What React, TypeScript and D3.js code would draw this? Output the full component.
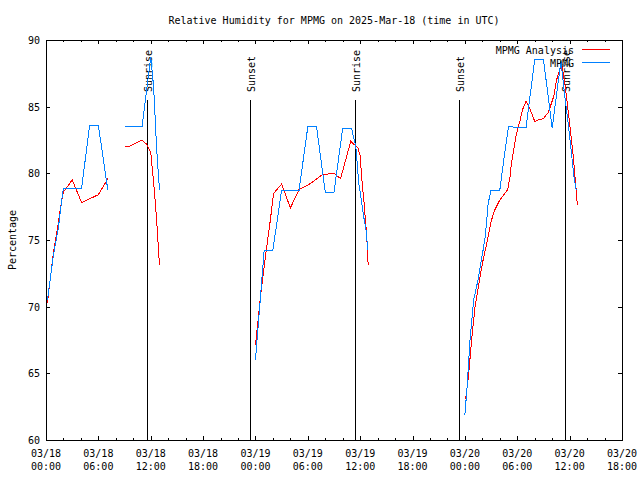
import React, { useRef, useEffect } from 'react';
import * as d3 from 'd3';

// MPMG Analysis (red) - null marks a gap in the record
const analysisTimes = [
  '2025-03-18 00:10', '2025-03-18 00:50', '2025-03-18 01:25', '2025-03-18 01:48', '2025-03-18 02:00',
  '2025-03-18 03:00', '2025-03-18 04:05', '2025-03-18 06:00', '2025-03-18 07:05', '2025-03-18 08:00',
  '2025-03-18 09:00', '2025-03-18 09:30', '2025-03-18 11:00', '2025-03-18 11:30', '2025-03-18 12:00',
  '2025-03-18 12:20', '2025-03-18 12:30', '2025-03-18 12:45', '2025-03-18 13:00', '2025-03-18 18:00',
  '2025-03-19 00:00', '2025-03-19 00:35', '2025-03-19 01:15', '2025-03-19 01:40', '2025-03-19 02:05',
  '2025-03-19 03:00', '2025-03-19 04:00', '2025-03-19 05:00', '2025-03-19 06:00', '2025-03-19 07:40',
  '2025-03-19 09:00', '2025-03-19 09:45', '2025-03-19 10:55', '2025-03-19 11:45', '2025-03-19 12:00',
  '2025-03-19 12:10', '2025-03-19 12:25', '2025-03-19 12:40', '2025-03-19 12:50', '2025-03-19 12:55',
  '2025-03-19 18:00',
  '2025-03-20 00:05', '2025-03-20 00:25', '2025-03-20 00:45', '2025-03-20 01:10', '2025-03-20 01:40',
  '2025-03-20 02:05', '2025-03-20 02:35', '2025-03-20 03:00', '2025-03-20 03:25', '2025-03-20 04:00',
  '2025-03-20 04:55', '2025-03-20 05:10', '2025-03-20 05:20', '2025-03-20 05:35', '2025-03-20 05:55',
  '2025-03-20 06:20', '2025-03-20 06:35', '2025-03-20 07:00', '2025-03-20 07:30', '2025-03-20 08:00',
  '2025-03-20 08:25', '2025-03-20 09:00', '2025-03-20 09:35', '2025-03-20 10:10', '2025-03-20 10:30',
  '2025-03-20 11:05', '2025-03-20 11:30', '2025-03-20 12:00', '2025-03-20 12:25', '2025-03-20 12:45',
  '2025-03-20 12:53',
];
const analysisValues = [
  70.3, 74.0, 76.3, 78.0, 78.6,
  79.5, 77.8, 78.4, 79.6, null,
  82.0, 82.0, 82.5, 82.2, 81.6,
  79.3, 78.0, 75.8, 73.1, null,
  67.1, 70.8, 74.3, 76.3, 78.5,
  79.2, 77.4, 78.8, 79.1, 79.9,
  80.0, 79.6, 82.4, 81.9, 81.3,
  79.7, 78.0, 76.0, 74.3, 73.1,
  null,
  63.1, 64.8, 67.4, 70.0, 72.0,
  73.5, 75.0, 76.4, 77.25, 78.0,
  78.8, 79.75, 80.75, 81.75, 83.0,
  84.0, 84.75, 85.4, 84.75, 83.9,
  84.0, 84.1, 84.6, 85.75, 87.0,
  88.25, 86.5, 83.75, 81.25, 78.75,
  77.6,
];

// MPMG observations (blue)
const mpmgTimes = [
  '2025-03-18 00:10', '2025-03-18 00:50', '2025-03-18 01:25', '2025-03-18 01:48', '2025-03-18 02:00',
  '2025-03-18 04:05', '2025-03-18 05:00', '2025-03-18 06:00', '2025-03-18 07:05', '2025-03-18 08:00',
  '2025-03-18 09:00', '2025-03-18 11:00', '2025-03-18 12:00', '2025-03-18 12:20', '2025-03-18 12:40',
  '2025-03-18 13:00', '2025-03-18 18:00',
  '2025-03-19 00:00', '2025-03-19 01:00', '2025-03-19 02:00', '2025-03-19 03:00', '2025-03-19 05:00',
  '2025-03-19 06:00', '2025-03-19 07:00', '2025-03-19 08:00', '2025-03-19 09:00', '2025-03-19 10:00',
  '2025-03-19 11:00', '2025-03-19 11:30', '2025-03-19 11:50', '2025-03-19 12:25', '2025-03-19 12:45',
  '2025-03-19 12:50', '2025-03-19 18:00',
  '2025-03-20 00:00', '2025-03-20 00:15', '2025-03-20 00:35', '2025-03-20 01:00', '2025-03-20 01:30',
  '2025-03-20 02:05', '2025-03-20 02:20', '2025-03-20 02:40', '2025-03-20 03:00', '2025-03-20 04:00',
  '2025-03-20 04:30', '2025-03-20 05:00', '2025-03-20 07:00', '2025-03-20 08:00', '2025-03-20 09:00',
  '2025-03-20 10:00', '2025-03-20 11:00', '2025-03-20 11:30', '2025-03-20 11:50', '2025-03-20 12:10',
  '2025-03-20 12:30', '2025-03-20 12:45',
];
const mpmgValues = [
  70.5, 73.8, 75.9, 78.0, 78.9,
  78.9, 83.6, 83.6, 78.75, null,
  83.5, 83.5, 88.7, 86.5, 82.0,
  78.75, null,
  66.0, 74.25, 74.25, 78.75, 78.75,
  83.5, 83.5, 78.6, 78.6, 83.4,
  83.4, 82.0, 79.3, 76.7, 75.4,
  74.25, null,
  61.9, 64.0, 67.5, 70.5, 72.0,
  74.25, 75.25, 77.75, 78.75, 78.75,
  81.25, 83.5, 83.4, 88.55, 88.55,
  83.4, 88.4, 85.5, 83.75, 81.75,
  79.75, 78.75,
];

const sunEvents = [
  { time: '2025-03-18 11:31', label: 'Sunrise' },
  { time: '2025-03-18 23:22', label: 'Sunset' },
  { time: '2025-03-19 11:24', label: 'Sunrise' },
  { time: '2025-03-19 23:19', label: 'Sunset' },
  { time: '2025-03-20 11:28', label: 'Sunrise' },
];

const yTicks = [60, 65, 70, 75, 80, 85, 90];
const xStart = '2025-03-18 00:00';
const xEnd = '2025-03-20 18:00';

const RED = '#ff0000';
const BLUE = '#0080ff';
const FONT = '"DejaVu Sans Mono", monospace';

const parse = d3.utcParse('%Y-%m-%d %H:%M');

const App: React.FC = () => {
  const svgRef = useRef<SVGSVGElement>(null);

  useEffect(() => {
    const margin = { top: 40, right: 18, bottom: 40, left: 46 };
    const W = 640;
    const H = 480;
    const width = W - margin.left - margin.right;
    const height = H - margin.top - margin.bottom;

    const root = d3.select(svgRef.current);
    root.selectAll('*').remove();
    root.attr('width', W).attr('height', H);

    const svg = root.append('g').attr('transform', `translate(${margin.left},${margin.top})`);

    const xScale = d3
      .scaleUtc()
      .domain([parse(xStart) as Date, parse(xEnd) as Date])
      .range([0, width]);

    const yScale = d3.scaleLinear().domain([60, 90]).range([height, 0]);

    // title
    root
      .append('text')
      .attr('x', margin.left + width / 2)
      .attr('y', 24)
      .attr('text-anchor', 'middle')
      .attr('font-family', FONT)
      .attr('font-size', '10px')
      .text('Relative Humidity for MPMG on 2025-Mar-18 (time in UTC)');

    // y label
    root
      .append('text')
      .attr('transform', `translate(16,${margin.top + height / 2}) rotate(-90)`)
      .attr('text-anchor', 'middle')
      .attr('font-family', FONT)
      .attr('font-size', '10px')
      .text('Percentage');

    const majorX = d3.utcHour.every(6)!.range(parse(xStart) as Date, d3.utcMinute.offset(parse(xEnd) as Date, 1));
    const minorX = d3.utcHour.every(2)!.range(parse(xStart) as Date, d3.utcMinute.offset(parse(xEnd) as Date, 1));

    const ticks = svg.append('g').attr('stroke', 'black').attr('stroke-width', 1).attr('shape-rendering', 'crispEdges');

    minorX.forEach((d) => {
      const x = Math.round(xScale(d)) + 0.5;
      ticks.append('line').attr('x1', x).attr('x2', x).attr('y1', height).attr('y2', height - 2);
      ticks.append('line').attr('x1', x).attr('x2', x).attr('y1', 0).attr('y2', 2);
    });
    majorX.forEach((d) => {
      const x = Math.round(xScale(d)) + 0.5;
      ticks.append('line').attr('x1', x).attr('x2', x).attr('y1', height).attr('y2', height - 4);
      ticks.append('line').attr('x1', x).attr('x2', x).attr('y1', 0).attr('y2', 4);
    });
    yTicks.forEach((v) => {
      const y = Math.round(yScale(v)) + 0.5;
      ticks.append('line').attr('x1', 0).attr('x2', 4).attr('y1', y).attr('y2', y);
      ticks.append('line').attr('x1', width).attr('x2', width - 4).attr('y1', y).attr('y2', y);
    });

    // tick labels
    const fmtDay = d3.utcFormat('%m/%d');
    const fmtHour = d3.utcFormat('%H:%M');
    const xLabels = svg.append('g').attr('font-family', FONT).attr('font-size', '10px').attr('text-anchor', 'middle');
    majorX.forEach((d) => {
      const t = xLabels.append('text').attr('x', xScale(d));
      t.append('tspan').attr('x', xScale(d)).attr('y', height + 17).text(fmtDay(d));
      t.append('tspan').attr('x', xScale(d)).attr('y', height + 30).text(fmtHour(d));
    });

    svg
      .append('g')
      .attr('font-family', FONT)
      .attr('font-size', '10px')
      .attr('text-anchor', 'end')
      .selectAll('text')
      .data(yTicks)
      .join('text')
      .attr('x', -6)
      .attr('y', (d) => yScale(d) + 4)
      .text((d) => d);

    // sunrise / sunset markers
    sunEvents.forEach((ev) => {
      const x = Math.round(xScale(parse(ev.time) as Date)) + 0.5;
      svg
        .append('line')
        .attr('x1', x)
        .attr('x2', x)
        .attr('y1', 60)
        .attr('y2', height)
        .attr('stroke', 'black')
        .attr('stroke-width', 1)
        .attr('shape-rendering', 'crispEdges');
      svg
        .append('text')
        .attr('transform', `translate(${x + 4},${52}) rotate(-90)`)
        .attr('font-family', FONT)
        .attr('font-size', '10px')
        .text(ev.label);
    });

    const line = d3
      .line<[Date, number | null]>()
      .defined((d) => d[1] != null)
      .x((d) => xScale(d[0]))
      .y((d) => yScale(d[1] as number));

    const series = [
      { times: analysisTimes, values: analysisValues, color: RED, name: 'MPMG Analysis' },
      { times: mpmgTimes, values: mpmgValues, color: BLUE, name: 'MPMG' },
    ];

    series.forEach((s) => {
      const pts = s.times.map((t, i) => [parse(t) as Date, s.values[i]] as [Date, number | null]);
      svg
        .append('path')
        .datum(pts)
        .attr('fill', 'none')
        .attr('stroke', s.color)
        .attr('stroke-width', 1)
        .attr('shape-rendering', 'crispEdges')
        .attr('d', line);
    });

    // key
    const legend = svg.append('g').attr('font-family', FONT).attr('font-size', '10px');
    series.forEach((s, i) => {
      const y = 9.5 + i * 13;
      legend
        .append('text')
        .attr('x', 528)
        .attr('y', y + 4)
        .attr('text-anchor', 'end')
        .text(s.name);
      legend
        .append('line')
        .attr('x1', 536)
        .attr('x2', 564)
        .attr('y1', y)
        .attr('y2', y)
        .attr('stroke', s.color)
        .attr('stroke-width', 1)
        .attr('shape-rendering', 'crispEdges');
    });

    // border
    svg
      .append('rect')
      .attr('x', 0.5)
      .attr('y', 0.5)
      .attr('width', width)
      .attr('height', height)
      .attr('fill', 'none')
      .attr('stroke', 'black')
      .attr('stroke-width', 1)
      .attr('shape-rendering', 'crispEdges');
  }, []);

  return (
    <div style={{ position: 'absolute', left: 0, top: 0, width: 640, height: 480, background: 'white' }}>
      <svg ref={svgRef} style={{ display: 'block' }} />
    </div>
  );
};

export default App;
